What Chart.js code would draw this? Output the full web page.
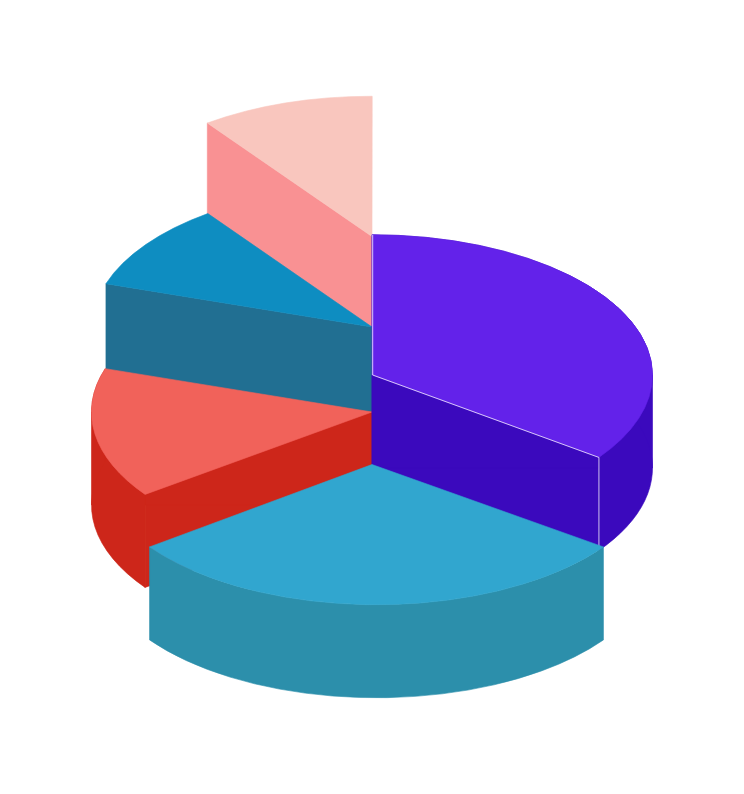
<!DOCTYPE html>
<html>
<head>
<meta charset="utf-8">
<title>Pie</title>
<script src="https://cdn.jsdelivr.net/npm/chart.js@4"></script>
<style>
  html, body { margin: 0; padding: 0; background: #fff; }
  canvas { display: block; }
</style>
</head>
<body>
<canvas id="chart1" width="744" height="794"></canvas>
<script>
// Values, clockwise from 12 o'clock
var categories = ['Purple', 'Blue', 'Red', 'Teal', 'Pink'];
var shares = [35, 30, 15, 10, 10];
// How far each slice is raised above the lowest one
var elevation = [90, 0.5, 53, 138, 228.5];

var topColors = ['#6322ea', '#31a6cf', '#f1625a', '#0e8dc1', '#f9c6be'];
var wallColors = ['#3b09bd', '#2c8fab', '#cd261a', '#216f92', '#f99193'];

// Flattens the round pie into a tilted one and gives each slice a wall
var tiltedPie = {
    id: 'tiltedPie',
    beforeDatasetDraw: function (chart, args, opts) {
        var ctx = chart.ctx;
        var arcs = args.meta.data;

        opts.drawOrder.forEach(function (i) {
            var p = arcs[i].getProps(['x', 'y', 'startAngle', 'endAngle', 'outerRadius']);
            var rx = p.outerRadius;
            var ry = rx * opts.tilt;
            var y = p.y - elevation[i];
            var rimX = p.x + opts.rimDrift[i];
            var h = opts.depth;

            function rimPoint(angle) {
                return [rimX + rx * Math.cos(angle), y + ry * Math.sin(angle)];
            }

            // walls first: the cut faces that look towards us, plus the widest
            // points of the ellipse when the slice reaches them, then the rim
            var faces = [];
            if (Math.cos(p.startAngle) < -1e-6) {
                faces.push(p.startAngle);
            }
            if (Math.cos(p.endAngle) > 1e-6) {
                faces.push(p.endAngle);
            }
            [0, Math.PI].forEach(function (angle) {
                if (angle > p.startAngle && angle < p.endAngle) {
                    faces.push(angle);
                }
            });

            ctx.save();
            ctx.fillStyle = wallColors[i];
            ctx.strokeStyle = wallColors[i];
            ctx.lineWidth = 0.6; // hides the seams between the faces
            faces.forEach(function (angle) {
                var e = rimPoint(angle);
                ctx.beginPath();
                ctx.moveTo(p.x, y);
                ctx.lineTo(e[0], e[1]);
                ctx.lineTo(e[0], e[1] + h);
                ctx.lineTo(p.x, y + h);
                ctx.closePath();
                ctx.fill();
                ctx.stroke();
            });
            if (Math.sin(p.startAngle) > 0 || Math.sin(p.endAngle) > 0 || faces.length > 1) {
                ctx.beginPath();
                ctx.ellipse(rimX, y, rx, ry, 0, p.startAngle, p.endAngle);
                ctx.ellipse(rimX, y + h, rx, ry, 0, p.endAngle, p.startAngle, true);
                ctx.closePath();
                ctx.fill();
                ctx.stroke();
            }

            // then the top of the slice
            ctx.fillStyle = topColors[i];
            ctx.strokeStyle = topColors[i];
            ctx.beginPath();
            ctx.moveTo(p.x, y);
            ctx.ellipse(rimX, y, rx, ry, 0, p.startAngle, p.endAngle);
            ctx.closePath();
            ctx.fill();
            ctx.stroke();

            // thin light edges, only the first slice has them
            if (i === 0) {
                var e = rimPoint(p.endAngle);
                ctx.strokeStyle = 'rgba(255,255,255,0.75)';
                ctx.lineWidth = 1;
                ctx.beginPath();
                ctx.moveTo(p.x + 0.7, y - ry);
                ctx.lineTo(p.x + 0.7, y);
                ctx.lineTo(e[0], e[1]);
                ctx.lineTo(e[0], e[1] + h);
                ctx.stroke();
            }
            ctx.restore();
        });
        return false; // arcs are already painted
    }
};

var chart = new Chart(document.getElementById('chart1').getContext('2d'), {
    type: 'pie',
    data: {
        labels: categories,
        datasets: [{
            data: shares,
            backgroundColor: topColors,
            borderWidth: 0
        }]
    },
    plugins: [tiltedPie],
    options: {
        responsive: false,
        animation: false,
        events: [],
        radius: 280.5,
        layout: { padding: { top: 136 } }, // puts the lowest slice's tip at y 465
        plugins: {
            legend: { display: false },
            tooltip: { enabled: false },
            tiltedPie: {
                tilt: 0.5,
                depth: 93,
                drawOrder: [4, 3, 2, 0, 1],
                rimDrift: [0, 4.5, 0, 0.7, 0.2]
            }
        }
    }
});
</script>
</body>
</html>
